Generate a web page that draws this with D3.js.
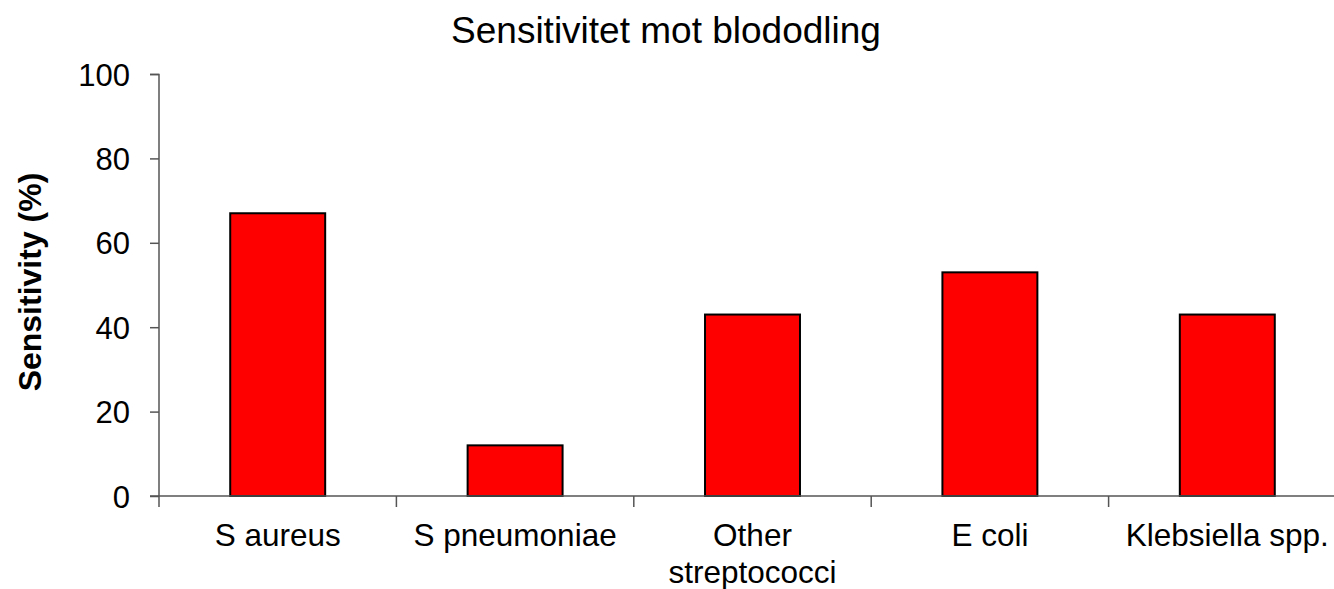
<!DOCTYPE html>
<html>
<head>
<meta charset="utf-8">
<script src="https://cdn.jsdelivr.net/npm/d3@7"></script>
<style>
  body { margin: 0; background: #fff; }
  text { font-family: "Liberation Sans", Arial, sans-serif; fill: #000; }
</style>
</head>
<body>
<div class="chart"></div>
<script>
'use strict';

// data
const categories = [["S aureus"], ["S pneumoniae"], ["Other", "streptococci"], ["E coli"], ["Klebsiella spp."]];
const values = [67, 12, 43, 53, 43];
const yTicks = [0, 20, 40, 60, 80, 100];

const width = 1334, height = 589;
const margin = {top: 74, left: 159, right: -12, bottom: 93};
const w = width - margin.left - margin.right;
const h = height - margin.top - margin.bottom;

const svg = d3.select(".chart")
  .append("svg")
  .attr("width", width)
  .attr("height", height);

const g = svg.append("g")
  .attr("transform", `translate(${margin.left}, ${margin.top})`);

const keys = categories.map(c => c.join(" "));
const xScale = d3.scaleBand().domain(keys).range([0, w]).padding(0);
const yScale = d3.scaleLinear().domain([0, 100]).range([h, 0]);
const step = xScale.step();

// y axis
const yAxis = g.append("g")
  .call(d3.axisLeft(yScale).tickValues(yTicks).tickSize(9).tickPadding(20));
yAxis.selectAll("path, line").attr("stroke", "#555").attr("stroke-width", 1.5);
yAxis.select(".domain").attr("d", `M-9,0.5H0V${h}`);
yAxis.selectAll("text")
  .style("font-size", "31px")
  .attr("dy", "0.36em");

// bars
g.selectAll("rect.bar")
  .data(values)
  .enter()
  .append("rect")
  .attr("class", "bar")
  .attr("x", (d, i) => xScale(keys[i]) + step * 0.3)
  .attr("y", d => yScale(d))
  .attr("width", step * 0.4)
  .attr("height", d => h - yScale(d))
  .attr("fill", "#ff0000")
  .attr("stroke", "#000")
  .attr("stroke-width", 2);

// x axis (ticks at category borders)
const xg = g.append("g").attr("transform", `translate(0, ${h})`);
xg.append("line")
  .attr("x1", -9).attr("x2", w)
  .attr("y1", 0).attr("y2", 0)
  .attr("stroke", "#555").attr("stroke-width", 1.5);
xg.selectAll("line.tick")
  .data(keys)
  .enter()
  .append("line")
  .attr("class", "tick")
  .attr("x1", d => xScale(d)).attr("x2", d => xScale(d))
  .attr("y1", 0).attr("y2", 11)
  .attr("stroke", "#555").attr("stroke-width", 1.5);

const labels = xg.selectAll("text.cat")
  .data(categories)
  .enter()
  .append("text")
  .attr("class", "cat")
  .attr("text-anchor", "middle")
  .style("font-size", "31.5px")
  .attr("y", 50);
labels.selectAll("tspan")
  .data((d, i) => d.map(t => ({t, k: keys[i]})))
  .enter()
  .append("tspan")
  .attr("x", d => xScale(d.k) + step / 2)
  .attr("dy", (d, j) => j === 0 ? 0 : 37)
  .text(d => d.t);

// title and y label
svg.append("text")
  .attr("x", 666)
  .attr("y", 43)
  .attr("text-anchor", "middle")
  .style("font-size", "37px")
  .text("Sensitivitet mot blododling");

svg.append("text")
  .attr("transform", `translate(41, 282) rotate(-90)`)
  .attr("text-anchor", "middle")
  .style("font-size", "32px")
  .style("font-weight", "bold")
  .text("Sensitivity (%)");
</script>
</body>
</html>
